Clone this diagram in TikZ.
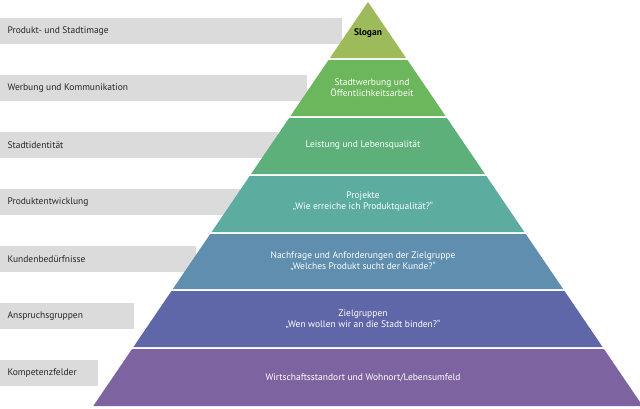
\documentclass[tikz,border=0pt]{standalone}
\usepackage{fontspec}
\setmainfont{PT Sans}
\begin{document}
\begin{tikzpicture}[x=1pt,y=-1pt,
  bar/.style={fill=gray!28,draw=none},
  lbl/.style={anchor=west,font=\fontsize{9.5}{11}\selectfont,text=black!85},
  bt/.style={align=center,text=white,font=\fontsize{9.5}{11}\selectfont}]
\useasboundingbox (0,0) rectangle (640,408);
\def\ax{368}\def\ay{2}\def\sl{0.68}
% gray bars
\foreach \yc/\w/\t [count=\i] in {31/342/Produkt- und Stadtimage,88/307/Werbung und Kommunikation,145/278/Stadtidentität,202/240/Produktentwicklung,259/196/Kundenbedürfnisse,316/134/Anspruchsgruppen,373/98/Kompetenzfelder}{
  \fill[bar] (0,\yc-13) rectangle (\w,\yc+13);
  \node[lbl] (l\i) at (4,\yc) {\t};
}
% bands
\foreach \ta/\tb/\c [count=\i] in {2/58/9DBB5A,60/116/6CB65B,118/174/5DB079,176/232/5CADA0,234/289/5F8EAE,291/347/5F67A8,349/406/7E63A1}{
  \definecolor{bc\i}{HTML}{\c}
  \fill[bc\i] ({\ax-\sl*(\ta-\ay)},\ta) -- ({\ax+\sl*(\ta-\ay)},\ta) -- ({\ax+\sl*(\tb-\ay)},\tb) -- ({\ax-\sl*(\tb-\ay)},\tb) -- cycle;
}
\node[font=\fontsize{9.5}{11}\selectfont\bfseries] (s1) at (368,33) {Slogan};
\node[bt] (s2) at (372,88) {Stadtwerbung und\\Öffentlichkeitsarbeit};
\node[bt] (s3) at (363,145) {Leistung und Lebensqualität};
\node[bt] (s4) at (363,202) {Projekte\\„Wie erreiche ich Produktqualität?“};
\node[bt] (s5) at (363,261) {Nachfrage und Anforderungen der Zielgruppe\\„Welches Produkt sucht der Kunde?“};
\node[bt] (s6) at (363,319) {Zielgruppen\\„Wen wollen wir an die Stadt binden?“};
\node[bt] (s7) at (363,378) {Wirtschaftsstandort und Wohnort/Lebensumfeld};
\end{tikzpicture}
\end{document}
